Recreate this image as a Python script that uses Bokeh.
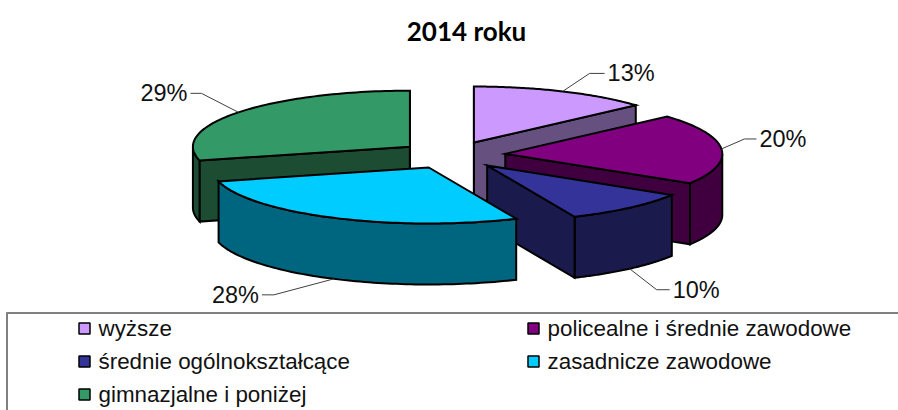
import math
from bokeh.plotting import figure
from bokeh.core.properties import value
from bokeh.embed import file_html
from bokeh.resources import INLINE

title_text = "2014 roku"
categories = ["wyższe", "policealne i średnie zawodowe", "średnie ogólnokształcące",
              "zasadnicze zawodowe", "gimnazjalne i poniżej"]
shares = [13.4, 20.4, 9.6, 27.6, 29.0]
top_colors = ["#CC99FF", "#800080", "#333399", "#00CCFF", "#339966"]
wall_colors = ["#66507F", "#400040", "#1A1A4D", "#006680", "#1C4D33"]
pct_labels = ["13%", "20%", "10%", "28%", "29%"]

# Pie projection, in page pixels
CX, CY, RX, RY, DEPTH, EXPLODE = 451.6, 154.6, 217.0, 56.0, 61.0, 0.246
# Leader elbow and end, relative to the slice's outer-edge midpoint
leader_elbow = [(27, -18), (23, -10), (27, 21), (-60, 16), (-37, -19)]
leader_end = [(42, -18), (35, -10), (40, 21), (-72, 16), (-48, -19)]
draw_order = [0, 4, 1, 2, 3]

p = figure(width=898, height=410, x_range=(0, 898), y_range=(410, 0),
           toolbar_location=None, output_backend="svg", min_border=0,
           outline_line_color=None, background_fill_color="white")
p.axis.visible = False
p.grid.visible = False

# cumulative angles
edges = [0.0]
for s in shares:
    edges.append(edges[-1] + s / sum(shares) * 2 * math.pi)


def pt(ax, ay, ang, dz=0.0):
    return ax + RX * math.sin(ang), ay - RY * math.cos(ang) + dz


def arc(ax, ay, a0, a1, dz=0.0, n=80):
    return [pt(ax, ay, a0 + (a1 - a0) * i / n, dz) for i in range(n + 1)]


def poly(points, color):
    p.patch([q[0] for q in points], [q[1] for q in points], fill_color=color,
            line_color="black", line_width=2, line_join="miter")


for i in draw_order:
    a0, a1 = edges[i], edges[i + 1]
    mid = (a0 + a1) / 2
    ax = CX + EXPLODE * RX * math.sin(mid)
    ay = CY - EXPLODE * RY * math.cos(mid)
    # outer wall: front half of the ellipse only
    v0, v1 = max(a0, math.pi / 2), min(a1, 1.5 * math.pi)
    if v1 > v0:
        poly(arc(ax, ay, v0, v1) + arc(ax, ay, v0, v1, DEPTH)[::-1], wall_colors[i])
    # cut walls that face the viewer
    if a1 < math.pi or a0 == 0:
        e = pt(ax, ay, a1)
        poly([(ax, ay), e, (e[0], e[1] + DEPTH), (ax, ay + DEPTH)], wall_colors[i])
    if a0 == 0 or math.pi < a0 < 2 * math.pi:
        e = pt(ax, ay, a0)
        poly([(ax, ay), e, (e[0], e[1] + DEPTH), (ax, ay + DEPTH)], wall_colors[i])
    if abs(a1 - 2 * math.pi) < 1e-9:
        e = pt(ax, ay, a1)
        poly([(ax, ay), e, (e[0], e[1] + DEPTH), (ax, ay + DEPTH)], wall_colors[i])
    poly([(ax, ay)] + arc(ax, ay, a0, a1), top_colors[i])

# leaders and percentage labels
for i, lab in enumerate(pct_labels):
    a0, a1 = edges[i], edges[i + 1]
    mid = (a0 + a1) / 2
    ax = CX + EXPLODE * RX * math.sin(mid)
    ay = CY - EXPLODE * RY * math.cos(mid)
    dz = DEPTH if math.cos(mid) < 0 else 0
    sx, sy = pt(ax, ay, mid, dz)
    ex, ey = leader_elbow[i]
    fx, fy = leader_end[i]
    p.line([sx, sx + ex, sx + fx], [sy, sy + ey, sy + fy], line_color="#404040", line_width=1)
    left = fx > 0
    p.text([sx + fx + (3 if left else -3)], [sy + fy], text=[lab], text_font=value("Liberation Sans"),
           text_font_size="23.5px", text_color="#111111", text_baseline="middle",
           text_align="left" if left else "right")

p.text([466], [30], text=[title_text], text_font=value("Lato"), text_font_size="26px",
       text_font_style="bold", text_color="black", text_align="center", text_baseline="middle")

# legend frame: top and left rules
p.line([6, 898], [312.5, 312.5], line_color="#808080", line_width=2)
p.line([6.5, 6.5], [312, 410], line_color="#808080", line_width=2)

legend_x = [84, 533, 84, 533, 84]
legend_y = [328, 328, 361, 361, 394]
p.scatter(legend_x, legend_y, marker="square", size=11, fill_color=top_colors,
          line_color="black", line_width=1.5)
p.text([x + 14 for x in legend_x], legend_y, text=categories, text_font=value("Liberation Sans"),
       text_font_size="22.4px", text_color="#111111", text_baseline="middle", text_align="left")

open("out.html", "w").write(file_html(p, INLINE))
